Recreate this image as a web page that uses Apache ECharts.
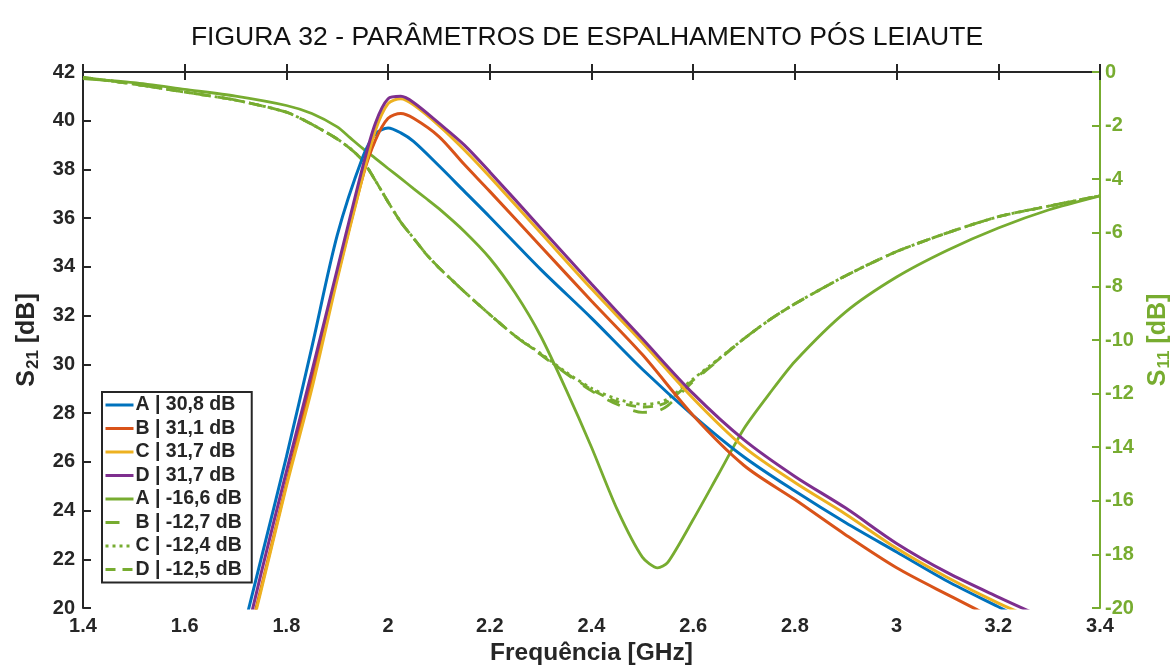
<!DOCTYPE html>
<html>
<head>
<meta charset="utf-8">
<title>Parâmetros de espalhamento</title>
<script src="https://cdn.jsdelivr.net/npm/echarts@6/dist/echarts.min.js"></script>
<style>
  html, body { margin: 0; padding: 0; background: #fff; }
  #chart { width: 1174px; height: 671px; }
</style>
</head>
<body>
<div id="chart"></div>
<script>
// frequency samples (GHz)
const freqS21 = [1.70, 1.75, 1.80, 1.85, 1.90, 1.95, 1.975, 2.0, 2.025, 2.05, 2.1, 2.15, 2.2, 2.3, 2.4, 2.5, 2.6, 2.7, 2.8, 2.9, 3.0, 3.1, 3.2, 3.3];
const freqS11 = [1.4, 1.5, 1.6, 1.7, 1.8, 1.85, 1.9, 1.925, 1.95, 1.975, 2.0, 2.025, 2.05, 2.075, 2.1, 2.15, 2.2, 2.25, 2.3, 2.35, 2.4, 2.45, 2.5, 2.53, 2.55, 2.6, 2.65, 2.7, 2.75, 2.8, 2.9, 3.0, 3.1, 3.2, 3.3, 3.4];

// S21 (left axis, dB)
const s21A = [17.8, 22.0, 26.2, 30.7, 35.3, 38.5, 39.45, 39.7, 39.5, 39.15, 38.15, 37.1, 36.05, 33.9, 31.9, 29.8, 27.9, 26.2, 24.8, 23.5, 22.3, 21.1, 20.05, 19.0];
const s21B = [16.6, 20.8, 25.1, 29.4, 33.6, 37.7, 39.2, 40.1, 40.3, 40.1, 39.35, 38.2, 37.1, 34.85, 32.6, 30.4, 27.9, 25.85, 24.45, 23.0, 21.65, 20.55, 19.5, 18.6];
const s21C = [16.5, 20.7, 25.0, 29.0, 33.5, 37.7, 39.6, 40.7, 40.9, 40.65, 39.8, 38.8, 37.7, 35.4, 33.1, 30.9, 28.6, 26.6, 25.15, 23.85, 22.45, 21.25, 20.2, 19.3];
const s21D = [17.0, 21.4, 25.6, 29.7, 33.9, 38.1, 39.9, 40.9, 41.0, 40.75, 39.9, 39.0, 37.9, 35.6, 33.3, 31.05, 28.8, 26.9, 25.4, 24.1, 22.65, 21.45, 20.45, 19.5];

// S11 (right axis, dB)
const s11A = [-0.25, -0.4, -0.65, -0.9, -1.25, -1.55, -2.05, -2.45, -2.85, -3.22, -3.6, -3.97, -4.35, -4.72, -5.1, -5.95, -6.95, -8.25, -9.85, -11.85, -14.0, -16.3, -18.1, -18.5, -18.3, -16.7, -15.0, -13.3, -12.0, -10.8, -8.95, -7.65, -6.65, -5.82, -5.14, -4.62];
const s11B = [-0.2, -0.45, -0.75, -1.05, -1.5, -1.95, -2.5, -2.85, -3.3, -4.05, -4.85, -5.6, -6.2, -6.8, -7.3, -8.2, -9.05, -9.85, -10.55, -11.25, -11.9, -12.4, -12.7, -12.65, -12.45, -11.55, -10.75, -9.95, -9.25, -8.65, -7.6, -6.7, -6.0, -5.4, -5.0, -4.62];
const s11C = [-0.2, -0.45, -0.75, -1.05, -1.5, -1.95, -2.5, -2.85, -3.3, -4.05, -4.85, -5.6, -6.2, -6.8, -7.3, -8.2, -9.05, -9.85, -10.5, -11.2, -11.8, -12.2, -12.4, -12.35, -12.2, -11.45, -10.7, -9.95, -9.25, -8.65, -7.6, -6.7, -6.0, -5.4, -5.0, -4.62];
const s11D = [-0.2, -0.45, -0.75, -1.05, -1.5, -1.95, -2.5, -2.85, -3.3, -4.05, -4.85, -5.6, -6.2, -6.8, -7.3, -8.2, -9.05, -9.85, -10.53, -11.23, -11.85, -12.3, -12.5, -12.45, -12.3, -11.5, -10.72, -9.95, -9.25, -8.65, -7.6, -6.7, -6.0, -5.4, -5.0, -4.62];

const names = ['A | 30,8 dB', 'B | 31,1 dB', 'C | 31,7 dB', 'D | 31,7 dB', 'A | -16,6 dB', 'B | -12,7 dB', 'C | -12,4 dB', 'D | -12,5 dB'];

const GREEN = '#77AC30';
const DARK = '#262626';
const FONT = '"Liberation Sans", Arial, Helvetica, sans-serif';

function pairs(xs, ys) {
  return xs.map((x, i) => [x, ys[i]]);
}

function s21Series(name, ys, color) {
  return {
    name: name, type: 'line', xAxisIndex: 0, yAxisIndex: 0,
    data: pairs(freqS21, ys), symbol: 'none', smooth: 0.3,
    lineStyle: { color: color, width: 3 }, itemStyle: { color: color },
    z: 3
  };
}

function s11Series(name, ys, dash) {
  return {
    name: name, type: 'line', xAxisIndex: 0, yAxisIndex: 1,
    data: pairs(freqS11, ys), symbol: 'none', smooth: 0.25,
    lineStyle: { color: GREEN, width: 2.8, type: dash }, itemStyle: { color: GREEN },
    z: 2
  };
}

const chart = echarts.init(document.getElementById('chart'));

const tickLabel = { color: DARK, fontSize: 20, fontWeight: 'bold', fontFamily: FONT };

const option = {
  backgroundColor: '#fff',
  animation: false,
  title: {
    text: 'FIGURA 32 - PARÂMETROS DE ESPALHAMENTO PÓS LEIAUTE',
    left: 'center', top: 19,
    textStyle: { fontSize: 26.5, fontWeight: 'normal', color: '#111', fontFamily: FONT }
  },
  grid: { left: 83, right: 74, top: 72, bottom: 63, outerBoundsMode: 'none' },
  legend: {
    orient: 'vertical',
    left: 102, top: 392,
    data: names,
    itemWidth: 28, itemHeight: 12, itemGap: 3.5,
    padding: [3, 10, 3, 2],
    borderColor: DARK, borderWidth: 2, backgroundColor: '#fff',
    itemStyle: { color: 'transparent', borderColor: 'transparent', borderWidth: 0 },
    lineStyle: { width: 3 },
    textStyle: { fontSize: 19.5, lineHeight: 20, fontWeight: 'bold', color: DARK, fontFamily: FONT, padding: [0, 0, 0, -3] }
  },
  xAxis: [
    {
      type: 'value', min: 1.4, max: 3.4, interval: 0.2, position: 'bottom',
      name: 'Frequência [GHz]', nameLocation: 'middle', nameGap: 31,
      nameTextStyle: { fontSize: 24.5, fontWeight: 'bold', color: DARK, fontFamily: FONT },
      axisLine: { lineStyle: { color: DARK, width: 2 } },
      axisTick: { inside: true, length: 8, lineStyle: { color: DARK, width: 2 } },
      axisLabel: Object.assign({ margin: 8, formatter: v => String(+v.toFixed(1)) }, tickLabel),
      splitLine: { show: false }
    },
    {
      type: 'value', min: 1.4, max: 3.4, interval: 0.2, position: 'top',
      axisLine: { lineStyle: { color: DARK, width: 2 } },
      axisTick: { inside: true, length: 8, lineStyle: { color: DARK, width: 2 } },
      axisLabel: { show: false },
      splitLine: { show: false }
    }
  ],
  yAxis: [
    {
      type: 'value', min: 20, max: 42, interval: 2, position: 'left',
      name: 'S{sub|21} [dB]', nameLocation: 'middle', nameGap: 36, nameRotate: 90,
      nameTextStyle: {
        fontSize: 25, fontWeight: 'bold', color: DARK, fontFamily: FONT,
        rich: { sub: { fontSize: 17, fontWeight: 'bold', color: DARK, fontFamily: FONT, verticalAlign: 'bottom', padding: [12, 0, 0, 1] } }
      },
      axisLine: { show: true, lineStyle: { color: DARK, width: 2 } },
      axisTick: { inside: true, length: 8, lineStyle: { color: DARK, width: 2 } },
      axisLabel: Object.assign({ margin: 8 }, tickLabel),
      splitLine: { show: false }
    },
    {
      type: 'value', min: -20, max: 0, interval: 2, position: 'right',
      name: 'S{sub|11} [dB]', nameLocation: 'middle', nameGap: 44, nameRotate: 90,
      nameTextStyle: {
        fontSize: 25, fontWeight: 'bold', color: GREEN, fontFamily: FONT,
        rich: { sub: { fontSize: 17, fontWeight: 'bold', color: GREEN, fontFamily: FONT, verticalAlign: 'bottom', padding: [12, 0, 0, 1] } }
      },
      axisLine: { show: true, lineStyle: { color: GREEN, width: 2 } },
      axisTick: { inside: true, length: 8, lineStyle: { color: GREEN, width: 2 } },
      axisLabel: Object.assign({}, tickLabel, { color: GREEN, margin: 5 }),
      splitLine: { show: false }
    }
  ],
  series: [
    s21Series(names[0], s21A, '#0072BD'),
    s21Series(names[1], s21B, '#D95319'),
    s21Series(names[2], s21C, '#EDB120'),
    s21Series(names[3], s21D, '#7E2F8E'),
    s11Series(names[4], s11A, 'solid'),
    s11Series(names[5], s11B, [14, 14]),
    s11Series(names[6], s11C, [3, 4]),
    s11Series(names[7], s11D, [10, 7])
  ]
};

chart.setOption(option);
</script>
</body>
</html>
